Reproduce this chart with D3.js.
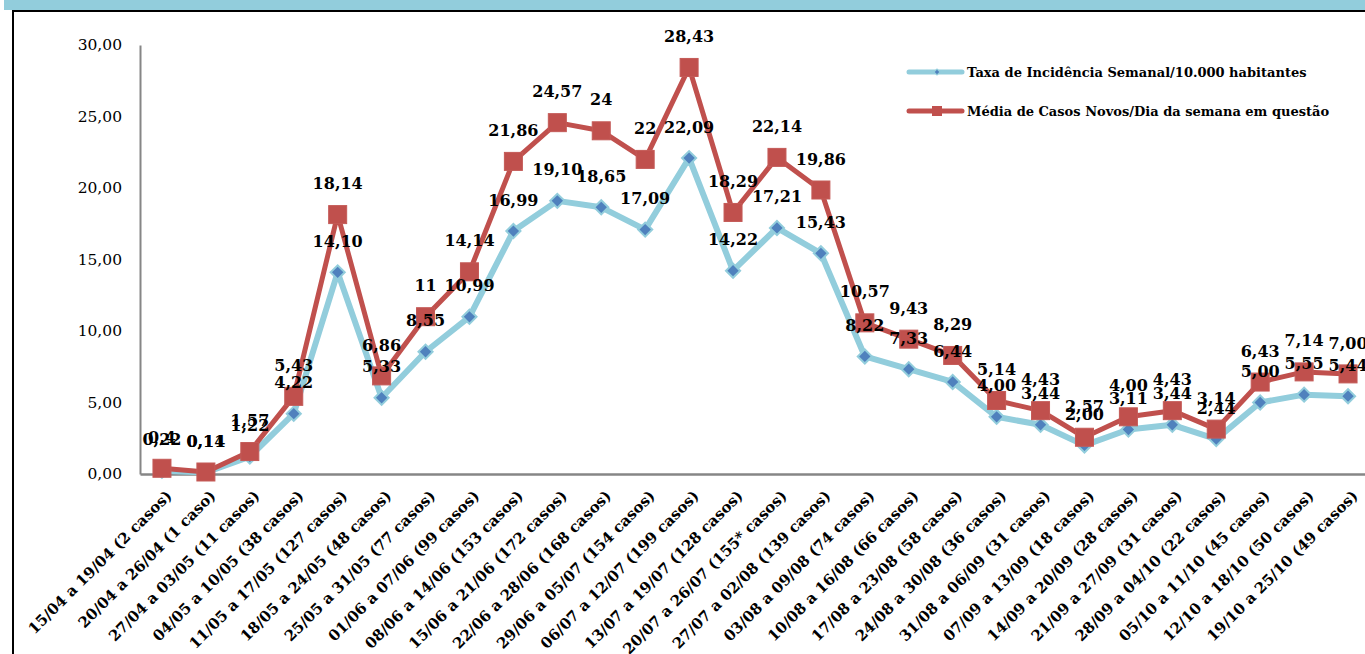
<!DOCTYPE html>
<html><head><meta charset="utf-8">
<script src="https://cdn.jsdelivr.net/npm/d3@7"></script>
<style>
html,body{margin:0;padding:0;background:#fff;}
svg{display:block;font-family:"DejaVu Serif",serif;}
</style></head>
<body>
<svg id="chart" width="1365" height="654"></svg>
<script>
const categories = ["15/04 a 19/04 (2 casos)","20/04 a 26/04 (1 caso)","27/04 a 03/05 (11 casos)","04/05 a 10/05 (38 casos)","11/05 a 17/05 (127 casos)","18/05 a 24/05 (48 casos)","25/05 a 31/05 (77 casos)","01/06 a 07/06 (99 casos)","08/06 a 14/06 (153 casos)","15/06 a 21/06 (172 casos)","22/06 a 28/06 (168 casos)","29/06 a 05/07 (154 casos)","06/07 a 12/07 (199 casos)","13/07 a 19/07 (128 casos)","20/07 a 26/07 (155* casos)","27/07 a 02/08 (139 casos)","03/08 a 09/08 (74 casos)","10/08 a 16/08 (66 casos)","17/08 a 23/08 (58 casos)","24/08 a 30/08 (36 casos)","31/08 a 06/09 (31 casos)","07/09 a 13/09 (18 casos)","14/09 a 20/09 (28 casos)","21/09 a 27/09 (31 casos)","28/09 a 04/10 (22 casos)","05/10 a 11/10 (45 casos)","12/10 a 18/10 (50 casos)","19/10 a 25/10 (49 casos)"];
const taxa = [0.22,0.11,1.22,4.22,14.10,5.33,8.55,10.99,16.99,19.10,18.65,17.09,22.09,14.22,17.21,15.43,8.22,7.33,6.44,4.00,3.44,2.00,3.11,3.44,2.44,5.00,5.55,5.44];
const media = [0.4,0.14,1.57,5.43,18.14,6.86,11,14.14,21.86,24.57,24,22,28.43,18.29,22.14,19.86,10.57,9.43,8.29,5.14,4.43,2.57,4.00,4.43,3.14,6.43,7.14,7.00];
const taxaLabels = ["0,22","0,11","1,22","4,22","14,10","5,33","8,55","10,99","16,99","19,10","18,65","17,09","22,09","14,22","17,21","15,43","8,22","7,33","6,44","4,00","3,44","2,00","3,11","3,44","2,44","5,00","5,55","5,44"];
const mediaLabels = ["0,4","0,14","1,57","5,43","18,14","6,86","11","14,14","21,86","24,57","24","22","28,43","18,29","22,14","19,86","10,57","9,43","8,29","5,14","4,43","2,57","4,00","4,43","3,14","6,43","7,14","7,00"];
const yTicks = [0,5,10,15,20,25,30];
const seriesNames = ["Taxa de Incidência Semanal/10.000 habitantes","Média de Casos Novos/Dia da semana em questão"];

const svg = d3.select("#chart");
const blueLine = "#92CDDC", blueMarker = "#4F81BD", red = "#C0504D";

// frame
svg.append("rect").attr("x",4).attr("y",0).attr("width",1361).attr("height",10).attr("fill","#92CDDC");
svg.append("path").attr("d","M13,660 V11 H1370").attr("fill","none").attr("stroke","#000").attr("stroke-width",2);

const x = d3.scaleBand().domain(categories).range([140,1370]);
const y = d3.scaleLinear().domain([0,30]).range([474,45]);
const cx = i => x(categories[i]) + x.bandwidth()/2;

// y axis
const yAxis = svg.append("g").attr("transform","translate(140,0)")
  .call(d3.axisLeft(y).tickValues(yTicks).tickSize(0).tickPadding(18).tickFormat(d => d3.format(".2f")(d).replace(".",",")));
yAxis.select(".domain").attr("stroke","#868686").attr("stroke-width",2);
yAxis.selectAll("text").attr("font-family","DejaVu Serif").attr("font-size",15.5).attr("fill","#000");

// x axis
const xAxis = svg.append("g").attr("transform","translate(0,474)")
  .call(d3.axisBottom(x).tickSize(0).tickSizeOuter(0));
xAxis.select(".domain").attr("stroke","#868686").attr("stroke-width",2.5);
xAxis.selectAll("text").attr("font-family","DejaVu Serif").attr("font-weight","bold").attr("font-size",15).attr("fill","#000")
  .attr("text-anchor","end").attr("y",0).attr("dy","0.35em")
  .attr("transform","translate(7,19) rotate(-45)");

// blue series
const lineGen = d3.line().x((d,i)=>cx(i)).y(d=>y(d));
svg.append("path").datum(taxa).attr("d",lineGen).attr("fill","none").attr("stroke",blueLine).attr("stroke-width",6).attr("stroke-linejoin","round");
svg.append("g").selectAll("path").data(taxa).join("path")
  .attr("d",d3.symbol(d3.symbolSquare, 100))
  .attr("transform",(d,i)=>`translate(${cx(i)},${y(d)}) rotate(45)`)
  .attr("fill",blueMarker).attr("stroke",blueLine).attr("stroke-width",2);

// red series
svg.append("path").datum(media).attr("d",lineGen).attr("fill","none").attr("stroke",red).attr("stroke-width",5).attr("stroke-linejoin","round");
svg.append("g").selectAll("rect").data(media).join("rect")
  .attr("x",(d,i)=>cx(i)-9).attr("y",d=>y(d)-9).attr("width",18).attr("height",18)
  .attr("fill",red).attr("stroke","#c45a57").attr("stroke-width",1);

// data labels
const lab = (vals, labels) => svg.append("g").selectAll("text").data(vals).join("text")
  .attr("x",(d,i)=>cx(i)).attr("y",d=>y(d)-31).attr("dy","0.35em")
  .attr("text-anchor","middle").attr("font-family","DejaVu Serif").attr("font-weight","bold").attr("font-size",16)
  .attr("fill","#000").text((d,i)=>labels[i]);
lab(taxa, taxaLabels);
lab(media, mediaLabels);

// legend
const leg = svg.append("g");
const legRows = [{y:72, color:blueLine, marker:"diamond"},{y:111, color:red, marker:"square"}];
legRows.forEach((r,k)=>{
  leg.append("line").attr("x1",909).attr("x2",962).attr("y1",r.y).attr("y2",r.y).attr("stroke",r.color).attr("stroke-width",5).attr("stroke-linecap","round");
  if (r.marker==="diamond") {
    leg.append("path").attr("d",d3.symbol(d3.symbolSquare,18)).attr("transform",`translate(937,${r.y}) rotate(45)`).attr("fill",blueMarker).attr("stroke",blueLine).attr("stroke-width",1);
  } else {
    leg.append("rect").attr("x",932).attr("y",r.y-5).attr("width",10).attr("height",10).attr("fill",red);
  }
  leg.append("text").attr("x",967).attr("y",r.y).attr("dy","0.35em").attr("font-family","DejaVu Serif").attr("font-weight","bold").attr("font-size",13).attr("fill","#000").text(seriesNames[k]);
});
</script>
</body></html>
